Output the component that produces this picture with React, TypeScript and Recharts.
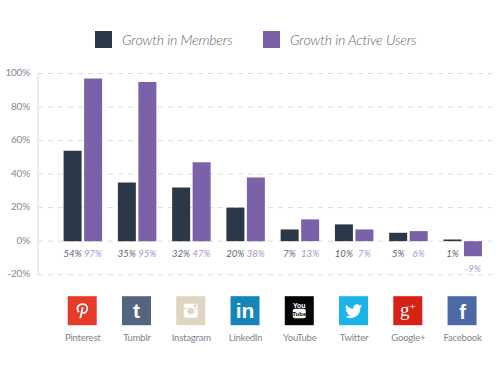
import React from "react";
import { BarChart, Bar, XAxis, YAxis, CartesianGrid, Legend, LabelList } from "recharts";

const platforms = ["Pinterest", "Tumblr", "Instagram", "LinkedIn", "YouTube", "Twitter", "Google+", "Facebook"];
const members = [54, 35, 32, 20, 7, 10, 5, 1];
const activeUsers = [97, 95, 47, 38, 13, 7, 6, -9];
const yTicks = [-20, 0, 20, 40, 60, 80, 100];
const iconColors = ["#e73a28", "#56657f", "#e0d5c1", "#1686b9", "#050505", "#1ab5e8", "#d62114", "#4d6aa8"];

const rows = platforms.map((platform, i) => ({ platform, members: members[i], activeUsers: activeUsers[i] }));
const FONT = "Lato, 'Open Sans', sans-serif";
const SANS = "'Liberation Sans', sans-serif";

function Glyph({ name }: { name: string }) {
  switch (name) {
    case "Pinterest":
      return (
        <g fill="none" stroke="#fff" strokeWidth={1.8}>
          <path d="M-3.5 1.5 C-6.5 -3 -4 -6.5 0.5 -6.5 C4.5 -6.5 6 -3.5 4.5 0 C3.500 2.500 1 3 -0.5 1.500" />
          <path d="M0.5 -3.500 L-2 7.500" />
        </g>
      );
    case "Tumblr":
      return <text y={7} fontSize={21} fill="#fff" fontFamily={SANS} fontWeight={700} textAnchor="middle">t</text>;
    case "Instagram":
      return (
        <g>
          <rect x={-7} y={-7} width={14} height={14} rx={2} fill="#fff" />
          <rect x={-7} y={-2.5} width={14} height={1} fill="#e0d5c1" />
          <circle cx={0} cy={0.5} r={3.8} fill="#e0d5c1" stroke="#fff" strokeWidth={1} />
          <rect x={3} y={-6} width={3} height={2.500} fill="#e0d5c1" />
        </g>
      );
    case "LinkedIn":
      return <text y={7} fontSize={21} fill="#fff" fontFamily={SANS} fontWeight={700} textAnchor="middle">in</text>;
    case "YouTube":
      return (
        <g>
          <text y={-3} fontSize={7} fill="#fff" fontFamily={SANS} fontWeight={700} textAnchor="middle">You</text>
          <rect x={-6.5} y={-2} width={13} height={9.5} rx={2} fill="#fff" />
          <text y={5} fontSize={6} fill="#050505" fontFamily={SANS} fontWeight={700} textAnchor="middle">Tube</text>
        </g>
      );
    case "Twitter":
      return <path transform="translate(-8.500,-8) scale(0.71)" fill="#fff" d="M24 4.6a10 10 0 0 1-2.8.8 5 5 0 0 0 2.2-2.7 10 10 0 0 1-3.1 1.2 4.9 4.9 0 0 0-8.4 4.5A14 14 0 0 1 1.7 3.2a4.9 4.9 0 0 0 1.5 6.6 4.900 4.900 0 0 1-2.2-.6 4.900 4.900 0 0 0 3.900 4.900 4.900 4.900 0 0 1-2.200.1 4.900 4.900 0 0 0 4.600 3.400A9.900 9.900 0 0 1 0 19.600 14 14 0 0 0 21.500 7.100 10 10 0 0 0 24 4.600z" />;
    case "Google+":
      return <text y={5} x={0} fontSize={19} fill="#fff" fontFamily="'Liberation Serif', serif" textAnchor="middle">g<tspan fontSize={11} dy={-6}>+</tspan></text>;
    default:
      return <text y={8} x={0.5} fontSize={20} fill="#fff" fontFamily={SANS} fontWeight={700} textAnchor="middle">f</text>;
  }
}

function PlatformTick({ x, y, payload, index }: any) {
  const size = 29;
  const cx = x - 0.5;
  const cy = y + 30;
  return (
    <g>
      <rect x={cx - size / 2} y={cy - size / 2} width={size} height={size} fill={iconColors[index]} />
      <g transform={`translate(${cx},${cy})`}>
        <Glyph name={payload.value} />
      </g>
      <text x={x} y={y + 60.5} textAnchor="middle" fontSize={9.5} letterSpacing={-0.2} fill="#7f858d" fontFamily={FONT}>
        {payload.value}
      </text>
    </g>
  );
}

const valueLabel = (color: string) => (props: any) => {
  const { x, y, width, height, value } = props;
  const bottom = Math.max(y, y + height);
  return (
    <text x={x + width / 2} y={bottom + 15.5} textAnchor="middle" fontSize={9.5} fontStyle="italic" fill={color} fontFamily={FONT}>
      {value}%
    </text>
  );
};

function LegendContent({ payload }: any) {
  return (
    <div style={{ position: "relative", height: 17, fontFamily: FONT }}>
      {(payload || []).map((entry: any, i: number) => (
        <div key={entry.value} style={{ display: "flex", alignItems: "center", position: "absolute", top: 0, height: 17, left: i === 0 ? 95 : 263 }}>
          <span style={{ width: 17, height: 17, background: entry.color, display: "inline-block", marginRight: 10 }} />
          <span style={{ fontSize: 14.2, letterSpacing: -0.22, fontWeight: 300, fontStyle: "italic", color: "#62666b", whiteSpace: "nowrap" }}>{entry.value}</span>
        </div>
      ))}
    </div>
  );
}

export default function App() {
  return (
    <div style={{ position: "absolute", left: 0, top: 0, width: 500, height: 375 }}>
      <BarChart
        width={500}
        height={375}
        data={rows}
        margin={{ top: 73.5, right: 8, bottom: 0, left: 0 }}
        barSize={18}
        barGap={2.5}
      >
        <CartesianGrid vertical={false} stroke="#dcdcdc" strokeDasharray="5 5" />
        <XAxis
          dataKey="platform"
          axisLine={false}
          tickLine={false}
          height={100.3}
          interval={0}
          padding={{ left: 17.6, right: 2.3 }}
          tick={<PlatformTick />}
          tickMargin={0}
        />
        <YAxis
          width={38}
          domain={[-20, 100]}
          ticks={yTicks}
          interval={0}
          tickLine={false}
          axisLine={{ stroke: "#e6e6e6", strokeWidth: 1.5 }}
          tickFormatter={(v: number) => `${v}%`}
          tick={{ fontSize: 10, fill: "#858a92", fontFamily: FONT, letterSpacing: -0.2, dy: -1 }}
          tickMargin={2}
        />
        <Legend
          layout="horizontal"
          verticalAlign="middle"
          align="center"
          itemSorter={null}
          wrapperStyle={{ top: 31, left: 0, width: 500, height: 17 }}
          content={<LegendContent />}
        />
        <Bar dataKey="members" name="Growth in Members" fill="#2b3848" isAnimationActive={false}>
          <LabelList dataKey="members" content={valueLabel("#5f646b")} />
        </Bar>
        <Bar dataKey="activeUsers" name="Growth in Active Users" fill="#7b62a8" isAnimationActive={false}>
          <LabelList dataKey="activeUsers" content={valueLabel("#a896c9")} />
        </Bar>
      </BarChart>
    </div>
  );
}
